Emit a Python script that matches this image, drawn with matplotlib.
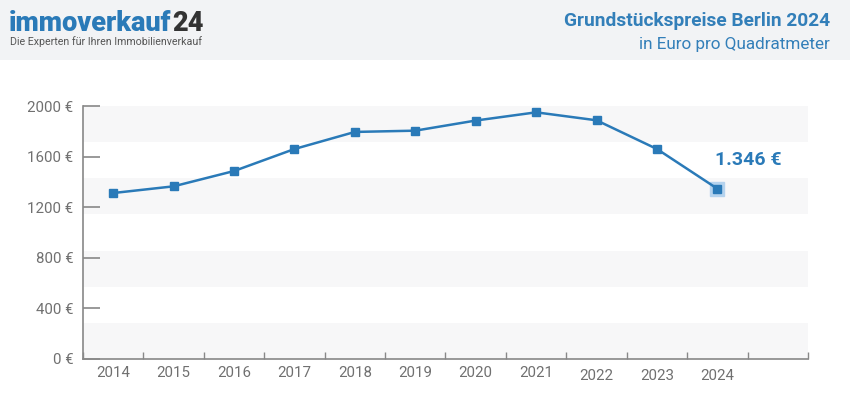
import matplotlib.pyplot as plt
from matplotlib.patches import Rectangle

plt.rcParams['font.family'] = ['Roboto', 'DejaVu Sans']

years = ["2014", "2015", "2016", "2017", "2018", "2019", "2020", "2021", "2022", "2023", "2024"]
prices = [1312, 1365, 1486, 1660, 1795, 1805, 1885, 1950, 1887, 1660, 1346]
y_ticks = [0, 400, 800, 1200, 1600, 2000]
y_labels = ["0 €", "400 €", "800 €", "1200 €", "1600 €", "2000 €"]

blue = "#2a7ab8"
grey_txt = "#707070"
W, H = 850, 417

fig = plt.figure(figsize=(W / 100, H / 100), dpi=100)
fig.patch.set_facecolor("white")

# header band
fig.patches.append(Rectangle((0, 1 - 60 / H), 1, 60 / H, transform=fig.transFigure,
                             facecolor="#f2f3f5", edgecolor="none", zorder=0))

t1 = fig.text(9 / W, 1 - 31 / H, "immoverkauf", fontsize=19.5, fontweight="heavy",
              color=blue, va="baseline", ha="left")
fig.canvas.draw()
bb = t1.get_window_extent()
fig.text(bb.x1 / W + 1 / W, 1 - 31 / H, "24", fontsize=19.5, fontweight="heavy",
         color="#333333", va="baseline", ha="left")
fig.text(10 / W, 1 - 42 / H, "Die Experten für Ihren Immobilienverkauf", fontsize=7.7,
         color="#555555", va="center", ha="left")

fig.text(830 / W, 1 - 21 / H, "Grundstückspreise Berlin 2024", fontsize=13.8,
         fontweight="bold", color="#337fb9", va="center", ha="right")
fig.text(830 / W, 1 - 44 / H, "in Euro pro Quadratmeter", fontsize=12.3,
         color="#337fb9", va="center", ha="right")

ax = fig.add_axes([83 / W, (H - 359) / H, (808 - 83) / W, (359 - 106) / H])
ax.set_facecolor("white")
n = len(years) + 1
ax.set_xlim(-0.5, n - 0.5)
ax.set_ylim(0, 2000)

# alternating stripes
band = 2000 / 7
for i in range(0, 7, 2):
    ax.axhspan(i * band, (i + 1) * band, color="#f7f7f8", zorder=0, lw=0)

x = list(range(len(years)))
ax.plot(x, prices, color=blue, lw=1.8, marker="s", ms=5.5, zorder=3)
ax.plot(x[-1], prices[-1], marker="s", ms=10, color="#b5d3ee", zorder=2, ls="none")
ax.annotate("1.346 €", xy=(x[-1], prices[-1]), xytext=(-2, 21), textcoords="offset points",
            fontsize=14, fontweight="bold", color=blue, ha="left", va="center")

for s in ["top", "right"]:
    ax.spines[s].set_visible(False)
for s in ["left", "bottom"]:
    ax.spines[s].set_color("#888888")
    ax.spines[s].set_linewidth(1.2)

ax.set_yticks(y_ticks)
ax.set_yticklabels(y_labels)
ax.tick_params(axis="y", direction="in", length=12, width=1.2, color="#888888",
               labelsize=10.8, labelcolor=grey_txt, pad=7)

ax.set_xticks([i - 0.5 for i in range(n + 1)])
ax.set_xticklabels([])
ax.tick_params(axis="x", direction="in", length=5, width=1, color="#888888")
for i, yr in enumerate(years):
    dy = 17 if i >= 8 else 14
    ax.annotate(yr, xy=(i, 0), xytext=(0, -dy * 0.72), textcoords="offset points",
                ha="center", va="center", fontsize=10.8, color=grey_txt)

fig.savefig("out.png", dpi=100)
